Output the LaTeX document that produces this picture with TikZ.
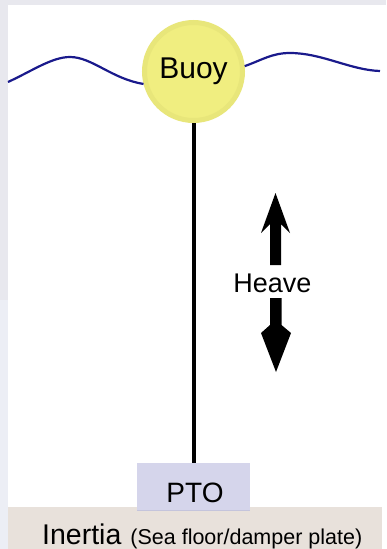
\documentclass[tikz,border=0pt]{standalone}
\usepackage{fontspec}
\setmainfont{Liberation Sans}
\definecolor{framegray}{RGB}{232,232,238}
\definecolor{framelight}{RGB}{236,238,245}
\definecolor{wave}{RGB}{26,26,140}
\definecolor{buoyfill}{RGB}{240,238,128}
\definecolor{buoyring}{RGB}{232,230,122}
\definecolor{ptofill}{RGB}{213,213,235}
\definecolor{ptoedge}{RGB}{196,196,220}
\definecolor{seabed}{RGB}{232,225,219}
\tikzset{
  buoystyle/.style={circle, fill=buoyfill, draw=buoyring, line width=5pt,
    minimum size=98pt, inner sep=0pt, font=\fontsize{30}{36}\selectfont},
  ptobox/.style={rectangle, fill=ptofill, minimum width=113pt,
    minimum height=47pt, inner sep=0pt},
  wavestyle/.style={draw=wave, line width=2.2pt},
  tether/.style={draw=black, line width=4pt},
  heavearrow/.style={fill=black},
  labeltext/.style={anchor=base, inner sep=0pt}
}
\begin{document}
\begin{tikzpicture}[x=1pt, y=-1pt]
  \useasboundingbox (0,0) rectangle (386,549);
  % page background and frame strips
  \fill[white] (0,0) rectangle (386,549);
  \fill[framegray] (0,0) rectangle (386,5);
  \fill[framegray] (0,0) rectangle (8,300);
  \fill[framelight] (0,300) rectangle (8,549);

  % sea bed band
  \fill[seabed] (8,507) rectangle (382,549);

  % buoy
  \node[buoystyle] (buoy) at (193.5,71.5) {Buoy};

  % water surface on both sides of the buoy
  \draw[wavestyle] (8,82) .. controls (32,71) and (52,57) .. (70,57)
     .. controls (92,57) and (112,79) .. (buoy.194);
  \draw[wavestyle] (buoy.6) .. controls (262,60) and (272,53) .. (290,53)
     .. controls (322,53) and (350,70) .. (380,71);

  % power take-off unit
  \node[ptobox] (pto) at (193.5,486.5) {};
  \draw[ptoedge, line width=1pt] (pto.south west) -- (pto.south east);
  \node[labeltext, font=\fontsize{28}{34}\selectfont] (ptotext) at (195,502) {PTO};

  % tether from buoy to PTO
  \draw[tether] (buoy.south) -- (pto.north);

  % heave motion arrows
  \fill[heavearrow] (275.5,193) -- (290,233) -- (281,224) -- (281,265)
     -- (270,265) -- (270,224) -- (261,233) -- cycle;
  \fill[heavearrow] (270,298) -- (281.5,298) -- (281.5,325) -- (291,333)
     -- (276,372) -- (261,333) -- (270,325) -- cycle;
  \node[labeltext, font=\fontsize{27}{32}\selectfont] (heave) at (272.5,292) {Heave};

  % inertia label
  \node[anchor=base west, inner sep=0pt] (inertia) at (42,544)
    {\fontsize{28.5}{34}\selectfont Inertia\hspace{9pt}\fontsize{21.5}{26}\selectfont (Sea floor/damper plate)};
\end{tikzpicture}
\end{document}
